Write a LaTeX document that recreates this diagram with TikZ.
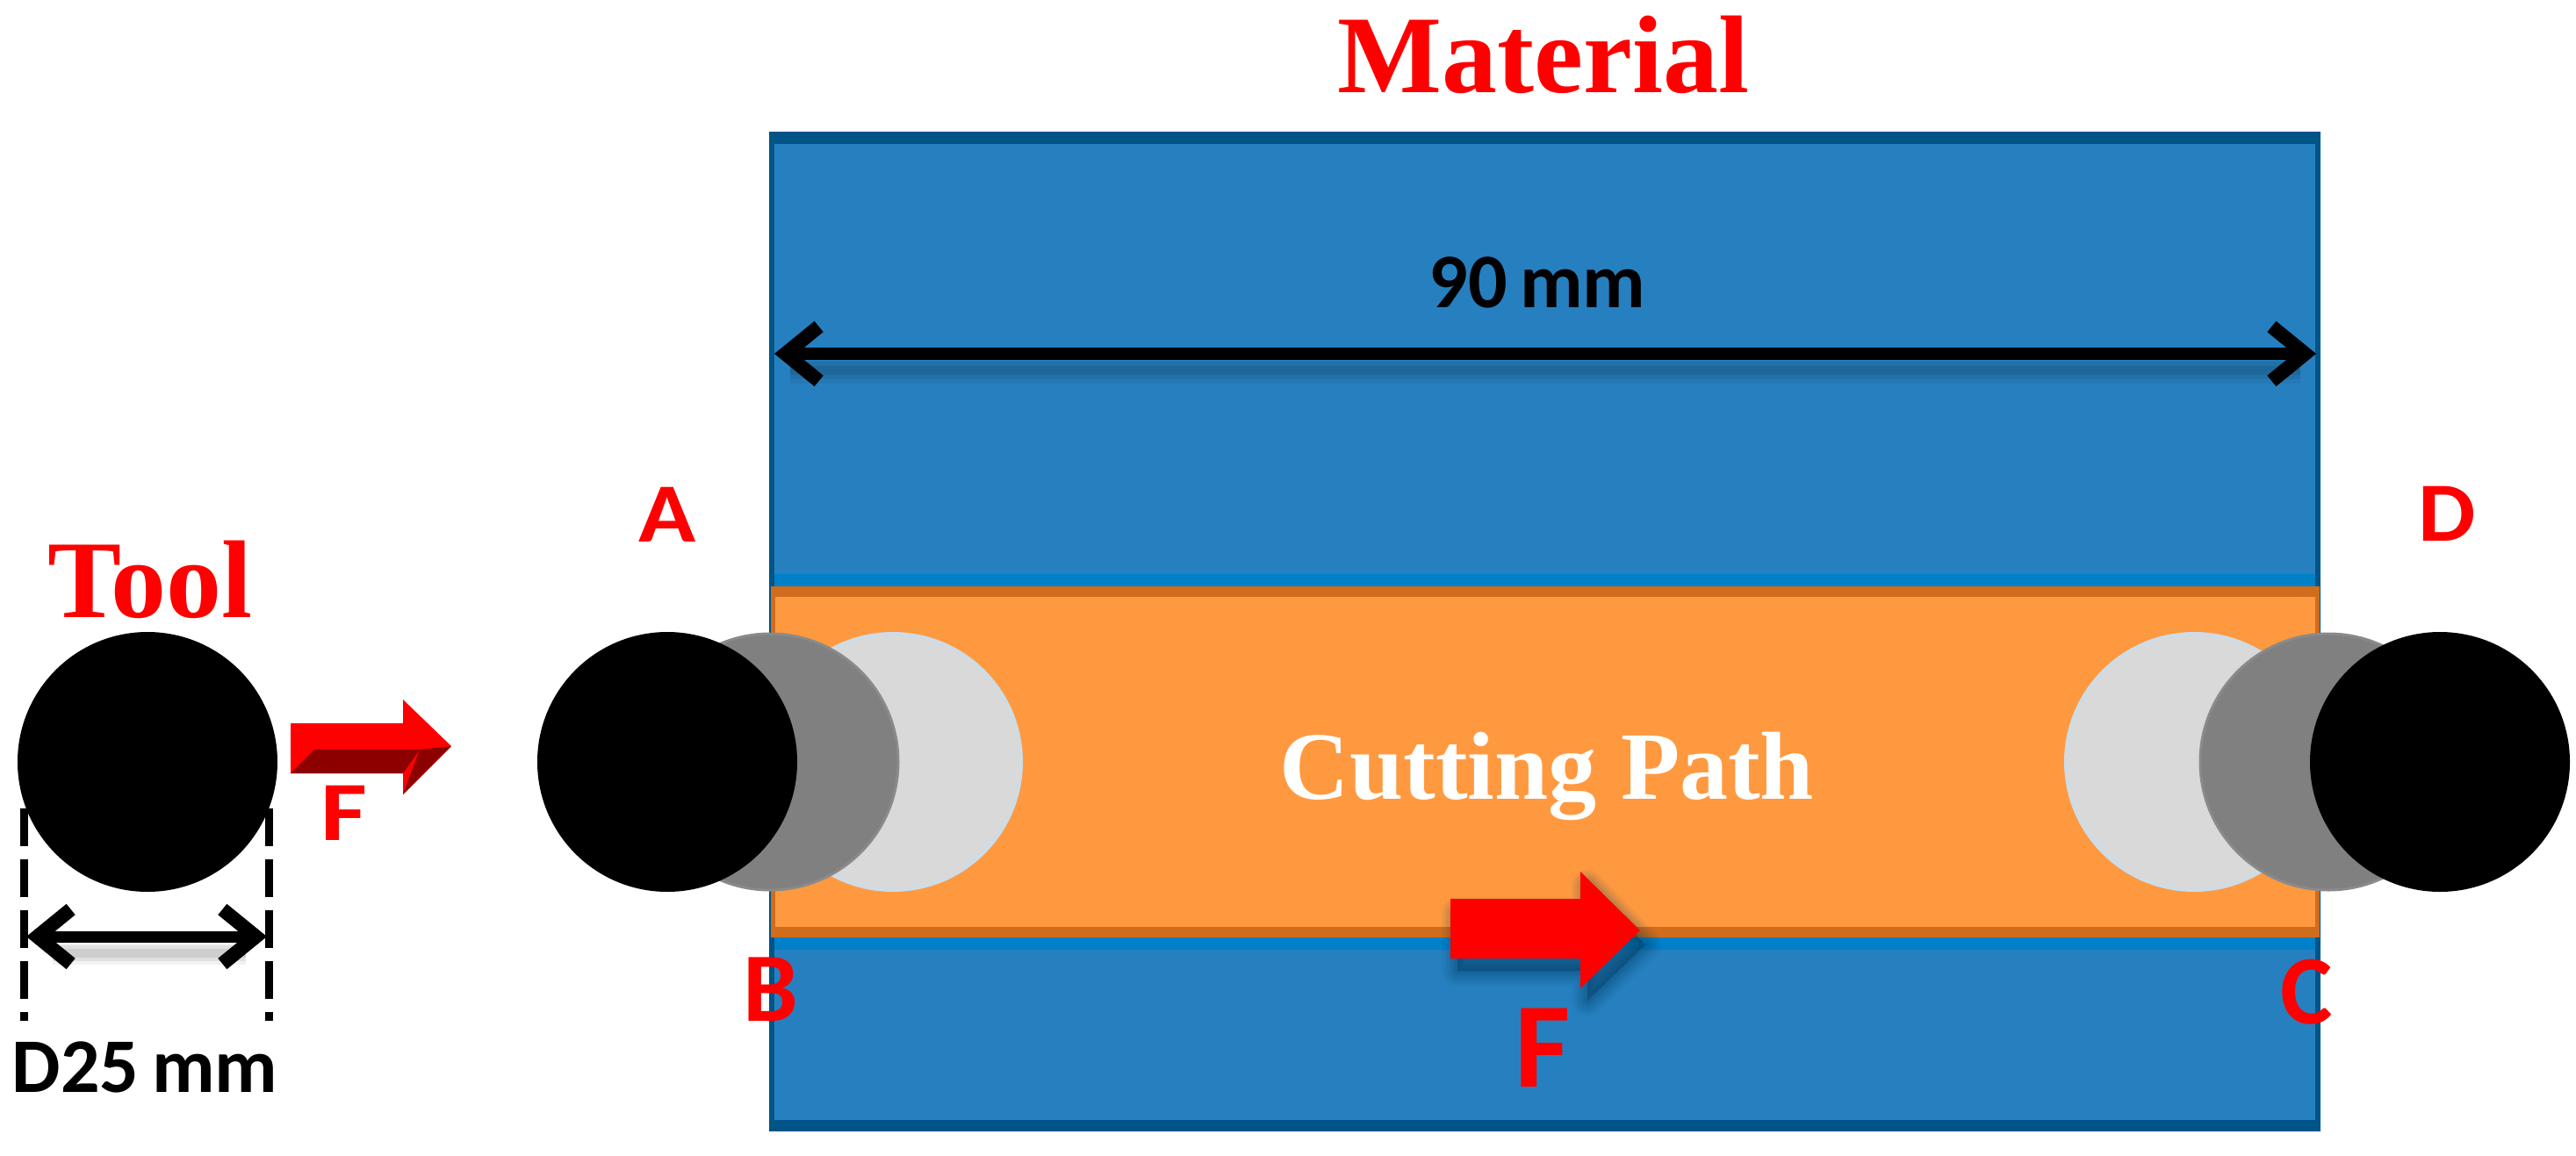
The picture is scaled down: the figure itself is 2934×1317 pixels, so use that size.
\documentclass[tikz,border=0pt]{standalone}
\usepackage{fontspec}
\setmainfont{Liberation Serif}
\newfontfamily\capfont{Carlito}
\usetikzlibrary{arrows.meta}
\definecolor{bluefill}{RGB}{38,128,192}
\definecolor{blueedge}{RGB}{0,84,136}
\definecolor{blueband}{RGB}{0,128,200}
\definecolor{orangefill}{RGB}{255,153,64}
\definecolor{orangeedge}{RGB}{208,108,28}
\definecolor{lightdisc}{RGB}{217,217,217}
\definecolor{lightrim}{RGB}{205,220,230}
\definecolor{middisc}{RGB}{128,128,128}
\definecolor{midrim}{RGB}{138,138,138}
\definecolor{darkred}{RGB}{140,0,0}
\tikzset{
  x=1pt,y=-1pt,
  disc/.style={circle,inner sep=0pt,minimum size=#1},
  titletext/.style={inner sep=0pt,anchor=base,text=red,font=\fontsize{126}{130}\selectfont\bfseries},
  pathtext/.style={inner sep=0pt,anchor=base,text=white,font=\fontsize{110}{114}\selectfont\bfseries},
  redlabel/.style={inner sep=0pt,anchor=base,text=red,font=\capfont\fontsize{#1}{#1}\selectfont\bfseries},
  dimlabel/.style={inner sep=0pt,anchor=base,text=black,font=\capfont\fontsize{#1}{#1}\selectfont\bfseries},
  dimarrow/.style={line width=#1,draw=black,{Straight Barb[length=38pt,width=62pt,line width=16pt]}-{Straight Barb[length=38pt,width=62pt,line width=16pt]}},
  dimguide/.style={line width=9pt,draw=black,dash pattern=on 43pt off 15pt on 43pt off 15pt on 43pt off 15pt on 43pt off 15pt on 10pt off 200pt},
}
\begin{document}
\begin{tikzpicture}
\useasboundingbox (0,0) rectangle (2934,1317);
\fill[white] (0,0) rectangle (2934,1317);

% material
\draw[fill=bluefill,draw=blueedge,line width=6pt] (879,153) rectangle (2640,1286);
\fill[blueedge] (876,150) rectangle (2643,164);
\fill[blueedge] (876,1276) rectangle (2643,1289);
\fill[blueband] (882,654) rectangle (2637,668);
\fill[blueband] (882,1067) rectangle (2637,1082);
\draw[fill=orangefill,draw=orangeedge,line width=5pt] (880,670) rectangle (2639,1065);
\fill[orangeedge] (878,668) rectangle (2641,680);
\fill[orangeedge] (878,1056) rectangle (2641,1067);

% discs
\node[disc=292pt,fill=lightdisc,draw=lightrim,line width=4pt] (la) at (1017,868) {};
\node[disc=292pt,fill=middisc,draw=midrim,line width=3pt] (ma) at (877,868) {};
\node[disc=296pt,fill=black] (ba) at (760,868) {};
\node[disc=292pt,fill=lightdisc,draw=lightrim,line width=4pt] (ld) at (2499,868) {};
\node[disc=292pt,fill=middisc,draw=midrim,line width=3pt] (md) at (2652,868) {};
\node[disc=296pt,fill=black] (bd) at (2779,868) {};
\node[disc=296pt,fill=black] (tool) at (168,868) {};

% feed arrow beside tool
\fill[red] (331,824) -- (459,824) -- (459,797) -- (514,850) -- (459,905) -- (459,881) -- (331,881) -- cycle;
\fill[darkred] (331,881) -- (358,854) -- (478,854) -- (459,881) -- cycle;
\fill[darkred] (459,905) -- (478,854) -- (514,850) -- cycle;

% feed arrow on the path, with its shadow
\foreach \w/\o in {36/0.05,30/0.06,24/0.07,18/0.08,12/0.09,6/0.10}{
  \draw[blueedge!70!black,opacity=\o,line width=\w pt,line join=round,fill=blueedge!70!black]
    (1660,1040) -- (1808,1040) -- (1808,1009) -- (1874,1076) -- (1808,1140) -- (1808,1106) -- (1660,1106) -- cycle;
}
\fill[red] (1652,1024) -- (1800,1024) -- (1800,993) -- (1868,1060) -- (1800,1126) -- (1800,1092) -- (1652,1092) -- cycle;

% dimension guides and arrows
\coordinate (g1a) at (27,921);
\coordinate (g1b) at (27,1165);
\coordinate (g2a) at (306,921);
\coordinate (g2b) at (306,1165);
\draw[dimguide] (g1a) -- (g1b);
\draw[dimguide] (g2a) -- (g2b);
\coordinate (d1) at (30,1067);
\coordinate (d2) at (304,1067);
\foreach \w/\o in {26/0.05,18/0.07,10/0.08}{
  \draw[black,opacity=\o,line width=\w pt] (60,1086) -- (280,1086);
}
\draw[dimarrow=13pt] (d1) -- (d2);
\coordinate (w1) at (882,403);
\coordinate (w2) at (2638,403);
\foreach \w/\o in {30/0.05,20/0.07,10/0.08}{
  \draw[black,opacity=\o,line width=\w pt] (900,422) -- (2620,422);
}
\draw[dimarrow=14pt] (w1) -- (w2);

% texts
\node[titletext] (material) at (1758,105) {Material};
\node[titletext] (tooltxt) at (171,703) {Tool};
\node[pathtext] (cut) at (1762,910) {Cutting Path};
\node[redlabel=96,xscale=1.12] (A) at (760,617) {A};
\node[redlabel=96,xscale=1.08] (Dd) at (2787,616) {D};
\node[redlabel=96,xscale=1.2] (F1) at (392,957) {F};
\node[redlabel=112] (B) at (878,1163) {B};
\node[redlabel=112] (C) at (2627,1166) {C};
\node[redlabel=138] (F2) at (1757,1238) {F};
\node[dimlabel=88,xscale=1.0] (dia) at (165,1244) {D25\,mm};
\node[dimlabel=88] (len) at (1751,350) {90\,mm};
\end{tikzpicture}
\end{document}
